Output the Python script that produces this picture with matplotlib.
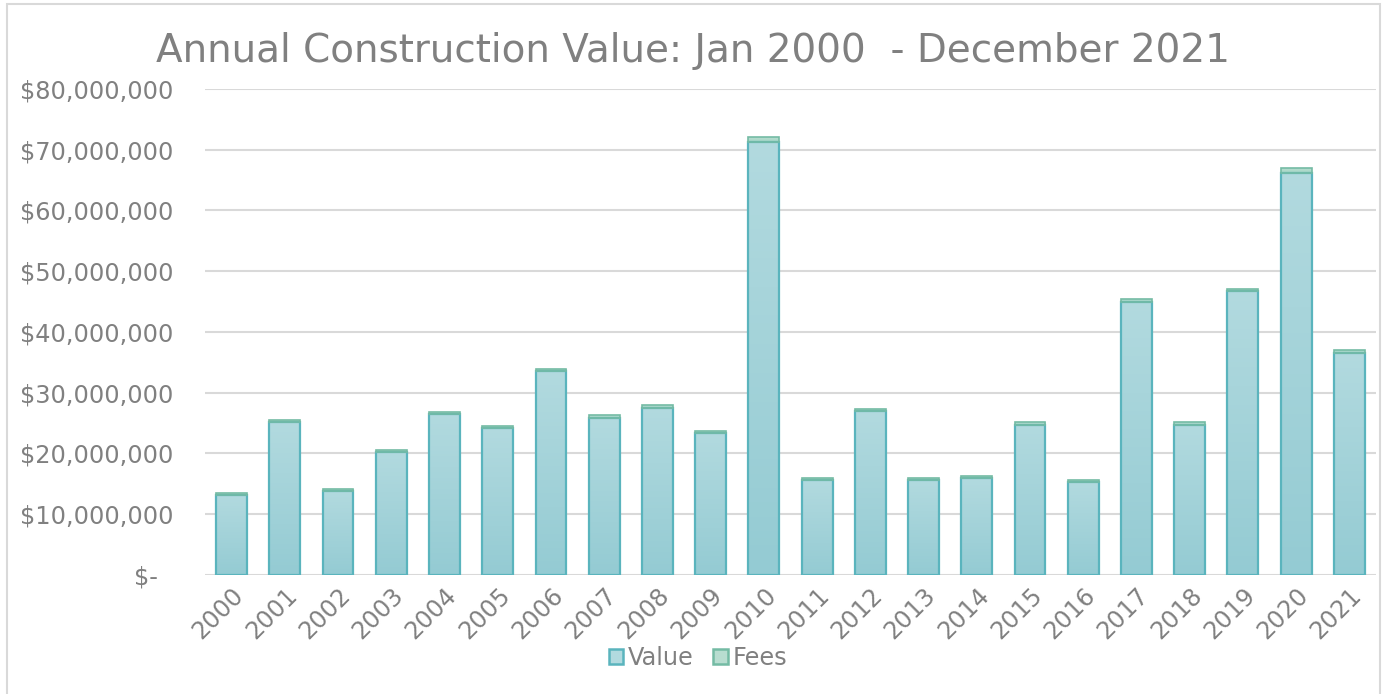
import numpy as np
import matplotlib
matplotlib.use("Agg")
import matplotlib.pyplot as plt
from matplotlib.patches import Patch, Rectangle
from matplotlib.ticker import FuncFormatter, MultipleLocator

# ── Data ($M) ─────────────────────────────────────────────
years = [str(y) for y in range(2000, 2022)]
totals = [13.5, 25.5, 14.1, 20.6, 26.9, 24.5, 33.9, 26.3, 27.9, 23.7, 72.0,
          15.9, 27.3, 16.0, 16.3, 25.1, 15.6, 45.4, 25.1, 47.1, 67.0, 37.0]
fees = [0.35, 0.35, 0.35, 0.35, 0.35, 0.35, 0.4, 0.4, 0.4, 0.35, 0.8,
        0.35, 0.35, 0.35, 0.35, 0.35, 0.35, 0.45, 0.45, 0.45, 0.8, 0.55]
value = [t - f for t, f in zip(totals, fees)]

value_usd = np.array(value) * 1e6
fees_usd = np.array(fees) * 1e6

TXT = "#808080"
GRID = "#d9d9d9"
VAL_TOP, VAL_BOT, VAL_EDGE = "#b2dadf", "#94cbd3", "#5ab4bd"
FEE_TOP, FEE_BOT, FEE_EDGE = "#b8ddd0", "#a5d5c5", "#74bba4"

plt.rcParams["font.family"] = "DejaVu Sans"

fig = plt.figure(figsize=(13.85, 6.94), dpi=100)
ax = fig.add_axes([0.148, 0.1715, 0.8455, 0.7005])

# outer chart frame
fig.patches.append(Rectangle((7 / 1385, -0.05), 1373 / 1385, 1.05 - 4 / 694,
                             transform=fig.transFigure, fill=False,
                             edgecolor=GRID, linewidth=1.5))

x = np.arange(len(years))
w = 0.58
b1 = ax.bar(x, value_usd, w, color="none", edgecolor=VAL_EDGE, linewidth=1.6, zorder=3)
b2 = ax.bar(x, fees_usd, w, bottom=value_usd, color="none", edgecolor=FEE_EDGE,
            linewidth=1.2, zorder=3)


def shade(bars, top, bot):
    # vertical gradient inside each bar, light at the top
    cmap = matplotlib.colors.LinearSegmentedColormap.from_list("g", [bot, top])
    grad = np.linspace(0, 1, 256).reshape(-1, 1)
    for p in bars:
        x0, w0 = p.get_x(), p.get_width()
        y0, h0 = p.get_y(), p.get_height()
        im = ax.imshow(grad, cmap=cmap, origin="lower", aspect="auto",
                       extent=(x0, x0 + w0, y0, y0 + h0), zorder=2.5,
                       interpolation="bilinear")
        im.set_clip_path(p)


shade(b1, VAL_TOP, VAL_BOT)
shade(b2, FEE_TOP, FEE_BOT)

ax.set_xlim(-0.5, len(years) - 0.5)
ax.set_ylim(0, 80e6)
ax.yaxis.set_major_locator(MultipleLocator(10e6))


def money(v, _):
    if v == 0:
        return "$-  "
    return f"${v:,.0f}"


ax.yaxis.set_major_formatter(FuncFormatter(money))
ax.grid(axis="y", color=GRID, linewidth=1.5, zorder=0)
ax.set_axisbelow(True)
for s in ax.spines.values():
    s.set_visible(False)
ax.tick_params(axis="y", length=0, pad=23, labelsize=17.3, labelcolor=TXT)
ax.tick_params(axis="x", length=0, pad=6, labelsize=17.3, labelcolor=TXT)
ax.set_xticks(x)
ax.set_xticklabels(years, rotation=45, ha="right", va="top", rotation_mode="anchor")

fig.text(0.5, 0.927, "Annual Construction Value: Jan 2000  - December 2021",
         ha="center", va="center", fontsize=28, color=TXT)

handles = [Patch(facecolor=VAL_TOP, edgecolor=VAL_EDGE, linewidth=1.8, label="Value"),
           Patch(facecolor=FEE_TOP, edgecolor=FEE_EDGE, linewidth=1.8, label="Fees")]
fig.legend(handles=handles, loc="center", bbox_to_anchor=(0.504, 0.052), ncol=2,
           frameon=False, fontsize=17.3, labelcolor=TXT, handlelength=0.6,
           handleheight=0.6, handletextpad=0.2, columnspacing=0.8)

fig.savefig("out.png", dpi=100)
